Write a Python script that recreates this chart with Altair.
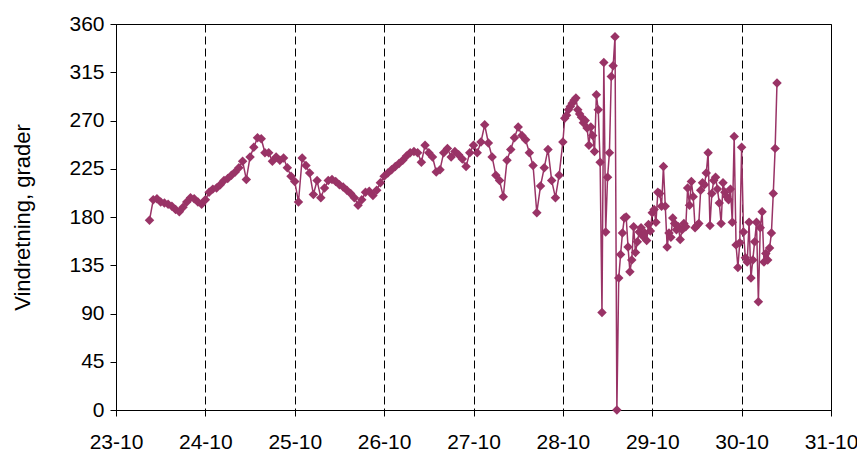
import altair as alt
import pandas as pd
from datetime import datetime, timedelta

YEAR = 2008

# Wind direction readings (degrees)
# 23-10, hourly from 09:00
d23 = [177, 196, 197, 194, 193, 192, 190, 187, 185, 189, 194, 198, 197, 194, 192]
# 24-10 .. 27-10, hourly from 00:00
d24 = [196, 203, 206, 207, 210, 214, 216, 219, 222, 226, 232, 215,
       236, 245, 254, 253, 240, 240, 232, 236, 233, 235, 226, 218]
d25 = [213, 194, 235, 228, 221, 201, 214, 198, 207, 214, 215, 213,
       210, 208, 205, 202, 198, 191, 196, 203, 204, 200, 205, 212]
d26 = [218, 221, 224, 227, 230, 233, 237, 240, 241, 240, 231, 247,
       240, 236, 222, 224, 240, 244, 236, 241, 238, 234, 227, 240]
d27 = [247, 240, 250, 266, 249, 236, 219, 214, 199, 233, 243, 254,
       264, 256, 252, 240, 228, 184, 209, 226, 243, 214, 198, 219]
# 28-10 .. 30-10, every 30 minutes from 00:00
d28 = [250, 272, 275, 280, 283, 286, 289, 291, 280, 276, 273, 268,
       270, 263, 247, 264, 256, 241, 294, 280, 231, 91, 324, 166,
       217, 240, 311, 321, 348, 0, 123, 145, 165, 179, 180, 152,
       129, 140, 171, 147, 157, 166, 170, 162, 165, 158, 173, 167]
d29 = [184, 187, 175, 203, 202, 190, 227, 190, 152, 165, 161, 179,
       174, 168, 171, 159, 168, 174, 171, 207, 191, 213, 199, 170,
       172, 174, 205, 212, 210, 221, 240, 172, 202, 214, 217, 206,
       193, 174, 212, 203, 199, 196, 206, 175, 255, 154, 133, 156]
d30 = [245, 166, 142, 138, 175, 123, 140, 157, 175, 101, 170, 185,
       138, 146, 140, 151, 165, 202, 244, 305]

segments = [
    (23, 9, 60, d23), (24, 0, 60, d24), (25, 0, 60, d25), (26, 0, 60, d26),
    (27, 0, 60, d27), (28, 0, 30, d28), (29, 0, 30, d29), (30, 0, 30, d30),
]

rows = []
for day, hour, step, vals in segments:
    t0 = datetime(YEAR, 10, day, hour)
    for i, v in enumerate(vals):
        t = t0 + timedelta(minutes=step * i)
        rows.append({"time": t.strftime("%Y-%m-%dT%H:%M:%SZ"), "value": v})
df = pd.DataFrame(rows)

day_ticks = [alt.DateTime(year=YEAR, month=10, date=d, utc=True) for d in range(23, 32)]
y_ticks = list(range(0, 361, 45))

FONT = "Liberation Sans"
COLOR = "#993366"

chart = alt.Chart(df).mark_line(
    color=COLOR, strokeWidth=1.5,
    point=alt.OverlayMarkDef(shape="diamond", size=90, color=COLOR, filled=True, opacity=1),
).encode(
    x=alt.X("time:T",
            scale=alt.Scale(type="utc", domain=[day_ticks[0], day_ticks[-1]], nice=False),
            axis=alt.Axis(values=day_ticks, labelExpr="utcFormat(datum.value, '%d-%m')",
                          title=None, grid=True, gridDash=[8, 4], gridColor="#000000",
                          gridWidth=1, tickSize=6, labelPadding=15, labelFontSize=21,
                          labelFont=FONT, labelColor="#000000", domainColor="#000000",
                          tickColor="#000000", labelFlush=False)),
    y=alt.Y("value:Q",
            scale=alt.Scale(domain=[0, 360], nice=False, zero=True),
            axis=alt.Axis(values=y_ticks, grid=False, title="Vindretning, grader",
                          titleFont=FONT, titleFontSize=22, titleFontWeight="normal",
                          titleColor="#000000", titleX=-94, titleY=193,
                          titleAlign="center", titleBaseline="middle", titleAngle=270,
                          tickSize=6, labelPadding=6, labelFontSize=21, labelFont=FONT,
                          labelColor="#000000", domainColor="#000000", tickColor="#000000")),
).properties(
    width=715, height=386,
    autosize=alt.AutoSizeParams(type="none"),
    padding={"left": 108, "top": 16, "right": 26, "bottom": 44},
).configure_view(
    stroke="#000000", strokeWidth=1,
).configure_axis(
    domainWidth=1, tickWidth=1,
)

chart.save("out.html", embed_options={"renderer": "svg", "actions": False})
